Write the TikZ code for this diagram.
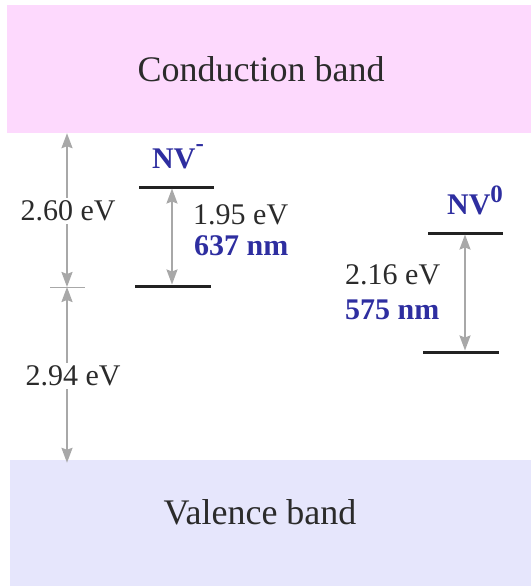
\documentclass[tikz,border=0pt]{standalone}
\usepackage{fontspec}
\setmainfont{Liberation Serif}
\usetikzlibrary{arrows.meta,positioning}
\definecolor{nvink}{HTML}{2B2B2B}
\definecolor{nvblue}{HTML}{2E2EA0}
\definecolor{nvgray}{HTML}{A8A8A8}
\definecolor{nvline}{HTML}{222222}
\definecolor{cbfill}{HTML}{FDD9FD}
\definecolor{vbfill}{HTML}{E6E6FC}
\tikzset{
  band/.style={rectangle,inner sep=0pt,font=\fontsize{36}{40}\selectfont,text=nvink},
  level/.style={draw=nvline,line width=3pt},
  gap/.style={{Stealth[length=15pt,width=11pt,inset=2pt]}-{Stealth[length=15pt,width=11pt,inset=2pt]},draw=nvgray,line width=2pt},
  tickmark/.style={draw=nvgray,line width=1pt},
  gaplabel/.style={fill=white,inner xsep=0pt,inner ysep=3pt,font=\fontsize{30}{34}\selectfont,text=nvink},
  energy/.style={anchor=west,inner sep=0pt,font=\fontsize{30}{34}\selectfont,text=nvink},
  wave/.style={anchor=west,inner sep=0pt,font=\bfseries\fontsize{30}{34}\selectfont,text=nvblue},
  defect/.style={inner sep=0pt,font=\bfseries\fontsize{30}{34}\selectfont,text=nvblue},
}
\newcommand{\nvcharge}[2]{\raisebox{#1}{\fontsize{25}{25}\selectfont #2}}

\begin{document}
\begin{tikzpicture}[x=1pt,y=-1pt]
  \useasboundingbox (0,0) rectangle (531,586);

  % ---- bands ----
  \node[band,fill=cbfill,minimum width=524pt,minimum height=128pt] (cb) at (269,69) {};
  \node[band] (cbtext) at (261,69) {Conduction band};
  \node[band,fill=vbfill,minimum width=521pt,minimum height=126pt] (vb) at (270.5,523) {};
  \node[band] (vbtext) at (260,512) {Valence band};

  % ---- gap scale on the left ----
  \coordinate (tick) at (67,287);
  \draw[tickmark] ([xshift=-17pt]tick) -- ([xshift=18pt]tick);
  \draw[gap] (cb.south -| tick) -- (tick);
  \draw[gap] (tick) -- ([yshift=-3pt]vb.north -| tick);
  \node[gaplabel] (gapup) at (68,211) {2.60 eV};
  \node[gaplabel] (gapdn) at (73,376) {2.94 eV};

  % ---- NV- ----
  \coordinate (mhiL) at (139,187); \coordinate (mhiR) at (214,187);
  \coordinate (mloL) at (135,286); \coordinate (mloR) at (211,286);
  \coordinate (mup) at (172,188.5); \coordinate (mdn) at (172,284.5);
  \draw[level] (mhiL) -- (mhiR);
  \draw[level] (mloL) -- (mloR);
  \draw[gap] (mup) -- (mdn);
  \node[defect] (nvm) at (178,157) {NV\nvcharge{17pt}{-}};
  \node[energy] (nvmev) at (193,215) {1.95 eV};
  \node[wave] (nvmnm) at (194,246) {637 nm};

  % ---- NV0 ----
  \coordinate (zhiL) at (428,233); \coordinate (zhiR) at (503,233);
  \coordinate (zloL) at (423,352); \coordinate (zloR) at (499,352);
  \coordinate (zup) at (465,234.5); \coordinate (zdn) at (465,350.5);
  \draw[level] (zhiL) -- (zhiR);
  \draw[level] (zloL) -- (zloR);
  \draw[gap] (zup) -- (zdn);
  \node[defect] (nvz) at (475,200) {NV\nvcharge{12pt}{0}};
  \node[energy] (nvzev) at (345,275) {2.16 eV};
  \node[wave] (nvznm) at (345,310) {575 nm};
\end{tikzpicture}
\end{document}
